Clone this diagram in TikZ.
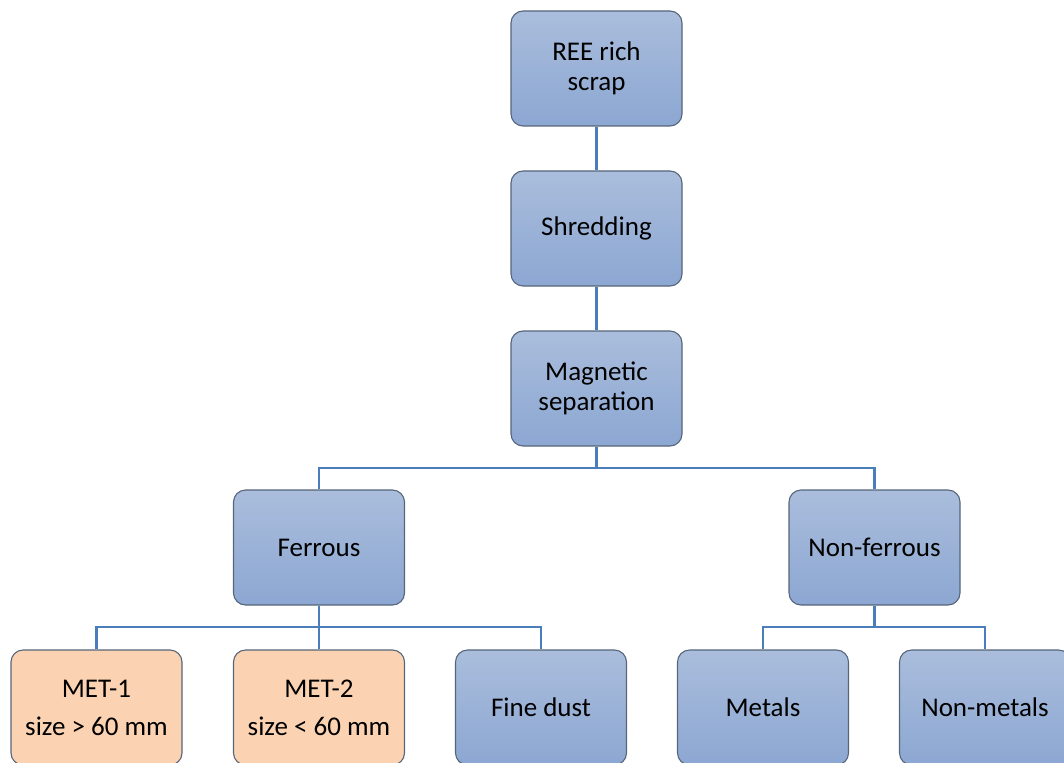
\documentclass[tikz,border=0pt]{standalone}
\usepackage{fontspec}
\setmainfont{Carlito}
\definecolor{btop}{HTML}{AABDDC}
\definecolor{bbot}{HTML}{8CA7D2}
\definecolor{bord}{HTML}{56657A}
\definecolor{peach}{HTML}{FBD3B2}
\definecolor{conn}{HTML}{4A7EBB}
\tikzset{
  box/.style={rectangle, rounded corners=12pt, draw=bord, line width=1.1pt,
    top color=btop, bottom color=bbot, minimum width=171pt, minimum height=115pt,
    inner sep=0pt, align=center, font=\fontsize{27}{30}\selectfont},
  peachbox/.style={box, top color=peach, bottom color=peach, fill=peach,
    font=\fontsize{27}{38}\selectfont},
  link/.style={draw=conn, line width=2.8pt}
}
\begin{document}
\begin{tikzpicture}[x=1pt,y=-1pt]
\useasboundingbox (0,0) rectangle (1064,762);
\node[box] (ree) at (596.5,68.5) {REE rich\\scrap};
\node[box] (shr) at (596.5,228.5) {Shredding};
\node[box] (mag) at (596.5,388.5) {Magnetic\\separation};
\node[box] (fer) at (319,547.5) {Ferrous};
\node[box] (nfe) at (874.5,547.5) {Non-ferrous};
\node[peachbox] (met1) at (96.5,707.5) {MET-1\\size > 60 mm};
\node[peachbox] (met2) at (319,707.5) {MET-2\\size < 60 mm};
\node[box] (dust) at (541,707.5) {Fine dust};
\node[box] (met) at (763,707.5) {Metals};
\node[box] (nmet) at (985,707.5) {Non-metals};
\draw[link] (ree) -- (shr);
\draw[link] (shr) -- (mag);
\draw[link] (mag.south) -- ++(0,21.5) -| (fer.north);
\draw[link] (mag.south) -- ++(0,21.5) -| (nfe.north);
\draw[link] (fer.south) -- ++(0,21.5) -| (met1.north);
\draw[link] (fer.south) -- ++(0,21.5) -| (met2.north);
\draw[link] (fer.south) -- ++(0,21.5) -| (dust.north);
\draw[link] (nfe.south) -- ++(0,21.5) -| (met.north);
\draw[link] (nfe.south) -- ++(0,21.5) -| (nmet.north);
\end{tikzpicture}
\end{document}
